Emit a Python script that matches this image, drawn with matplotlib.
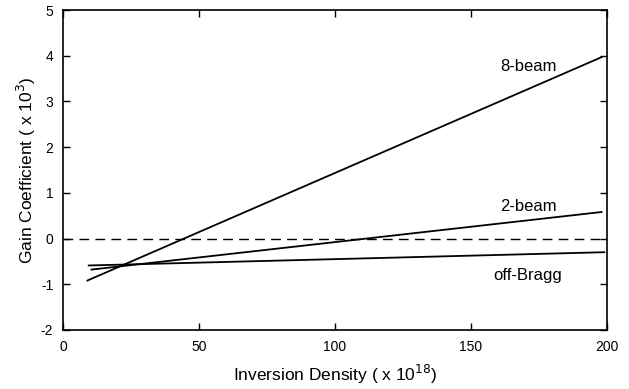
import matplotlib
matplotlib.use('Agg')
import matplotlib.pyplot as plt

plt.rcParams['font.family'] = ['Liberation Sans', 'DejaVu Sans']
plt.rcParams['axes.unicode_minus'] = False

# inversion density (x 10^18) at the ends of each computed curve
density_8beam = [9, 198]
gain_8beam = [-0.92, 3.97]
density_2beam = [10.5, 198]
gain_2beam = [-0.68, 0.58]
density_off = [9.5, 199]
gain_off = [-0.59, -0.30]

x_ticks = [0, 50, 100, 150, 200]
y_ticks = [-2, -1, 0, 1, 2, 3, 4, 5]

fig = plt.figure(figsize=(6.29, 3.89), dpi=100)
ax = fig.add_axes([0.100, 0.152, 0.865, 0.822])

ax.plot([0, 200], [0, 0], color='black', lw=1.0, dashes=(7, 4.5))
ax.plot(density_8beam, gain_8beam, color='black', lw=1.3)
ax.plot(density_2beam, gain_2beam, color='black', lw=1.3)
ax.plot(density_off, gain_off, color='black', lw=1.3)

ax.text(171, 3.77, '8-beam', fontsize=12, ha='center', va='center')
ax.text(171, 0.70, '2-beam', fontsize=12, ha='center', va='center')
ax.text(171, -0.80, 'off-Bragg', fontsize=12, ha='center', va='center')

ax.set_xlim(0, 200)
ax.set_ylim(-2, 5)
ax.set_xticks(x_ticks)
ax.set_yticks(y_ticks)
ax.tick_params(direction='in', top=True, right=True, length=5, width=1,
               labelsize=10, pad=7)
for s in ax.spines.values():
    s.set_linewidth(1.2)

ax.set_xlabel('Inversion Density ( x 10$^{18}$)', fontsize=12.5, labelpad=7)
ax.set_ylabel('Gain Coefficient ( x 10$^{3}$)', fontsize=12.5, labelpad=2)

fig.savefig('out.png', dpi=100)
